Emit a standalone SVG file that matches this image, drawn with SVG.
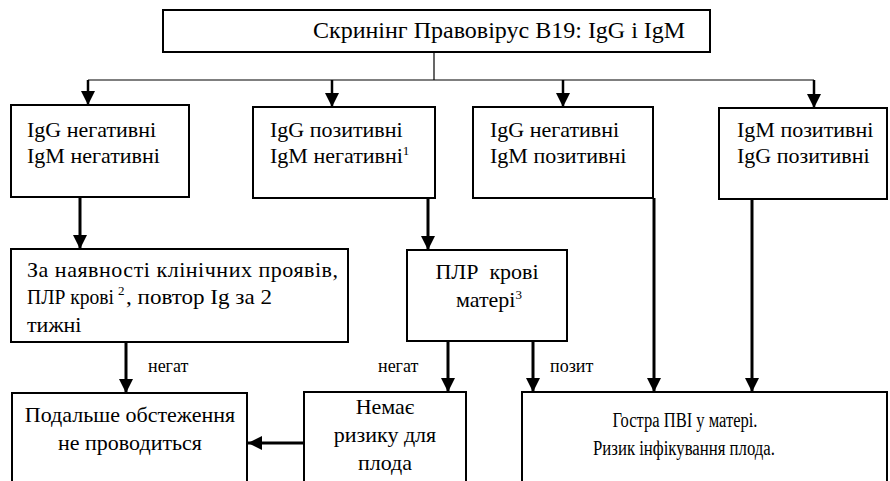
<svg xmlns="http://www.w3.org/2000/svg" width="890" height="481" viewBox="0 0 890 481">
<style>
.box{fill:#fff;stroke:#000;stroke-width:2}
.c{text-anchor:middle}
.thin{stroke:#000;stroke-width:1.2;fill:none}
.mid{stroke:#000;stroke-width:2.5;fill:none;marker-end:url(#ah)}
.thick{stroke:#000;stroke-width:3;fill:none;marker-end:url(#ah)}
</style>
<defs>
<marker id="ah" markerUnits="userSpaceOnUse" markerWidth="14" markerHeight="14" viewBox="0 0 14 14" refX="14" refY="7" orient="auto">
<path d="M0,0 L14,7 L0,14 z" fill="#000"/>
</marker>
</defs>
<rect width="890" height="481" fill="#fff"/>
<g font-family="Liberation Serif, serif" font-size="22" fill="#000">
<g id="connectors">
<line class="thin" x1="434" y1="52" x2="434" y2="80"/>
<line class="thin" x1="88" y1="80" x2="814" y2="80"/>
<line class="mid" x1="88" y1="80" x2="88" y2="105"/>
<line class="mid" x1="332" y1="80" x2="332" y2="107"/>
<line class="mid" x1="563" y1="80" x2="563" y2="107"/>
<line class="mid" x1="814" y1="80" x2="814" y2="108"/>
<line class="thick" x1="80" y1="197" x2="80" y2="249"/>
<line class="thick" x1="428" y1="198" x2="428" y2="250"/>
<line class="thick" x1="126" y1="342" x2="126" y2="393"/>
<line class="thick" x1="448" y1="341" x2="448" y2="392"/>
<line class="thick" x1="533" y1="341" x2="533" y2="392"/>
<line class="thick" x1="654" y1="198" x2="654" y2="392"/>
<line class="thick" x1="752" y1="199" x2="752" y2="392"/>
<line class="thick" x1="304" y1="443" x2="248" y2="443"/>
<text x="148" y="372" font-size="18">негат</text>
<text x="378" y="372" font-size="18">негат</text>
<text x="550" y="372" font-size="18">позит</text>
</g>
<g id="top">
<rect class="box" x="163" y="10" width="547" height="42"/>
<text x="313" y="38" font-size="24">Скринінг Правовірус В19: IgG і IgM</text>
</g>
<g id="n1">
<rect class="box" x="11" y="105" width="178" height="92"/>
<text x="27" y="137">IgG негативні</text>
<text x="27" y="163">IgM негативні</text>
</g>
<g id="n2">
<rect class="box" x="253" y="107" width="182" height="91"/>
<text x="270" y="137">IgG позитивні</text>
<text x="270" y="163">IgM негативні<tspan font-size="13" dy="-8">1</tspan></text>
</g>
<g id="n3">
<rect class="box" x="473" y="107" width="180" height="91"/>
<text x="490" y="137">IgG негативні</text>
<text x="490" y="163">IgM позитивні</text>
</g>
<g id="n4">
<rect class="box" x="719" y="108" width="168" height="91"/>
<text x="737" y="137">IgM позитивні</text>
<text x="737" y="163">IgG позитивні</text>
</g>
<g id="n5">
<rect class="box" x="11" y="249" width="337" height="93"/>
<text x="27" y="277" textLength="311" lengthAdjust="spacing">За наявності клінічних проявів,</text>
<text x="27" y="304" textLength="87" lengthAdjust="spacingAndGlyphs">ПЛР крові</text>
<text x="118" y="295" font-size="13">2</text>
<text x="126" y="304" textLength="146" lengthAdjust="spacingAndGlyphs">, повтор Ig за 2</text>
<text x="27" y="332">тижні</text>
</g>
<g id="n6">
<rect class="box" x="407" y="250" width="160" height="91"/>
<text class="c" x="487" y="279" xml:space="preserve">ПЛР  крові</text>
<text class="c" x="489" y="307">матері<tspan font-size="13" dy="-8">3</tspan></text>
</g>
<g id="n7">
<rect class="box" x="12" y="393" width="235" height="100"/>
<text class="c" x="130" y="422">Подальше обстеження</text>
<text class="c" x="130" y="450">не проводиться</text>
</g>
<g id="n8">
<rect class="box" x="304" y="392" width="162" height="100"/>
<text class="c" x="385" y="414">Немає</text>
<text class="c" x="385" y="442">ризику для</text>
<text class="c" x="385" y="470">плода</text>
</g>
<g id="n9">
<rect class="box" x="522" y="392" width="365" height="100"/>
<text class="c" x="685" y="427" font-size="20" textLength="145" lengthAdjust="spacingAndGlyphs">Гостра ПВІ у матері.</text>
<text class="c" x="684" y="455" font-size="20" textLength="182" lengthAdjust="spacingAndGlyphs">Ризик інфікування плода.</text>
</g>
</g>
</svg>
